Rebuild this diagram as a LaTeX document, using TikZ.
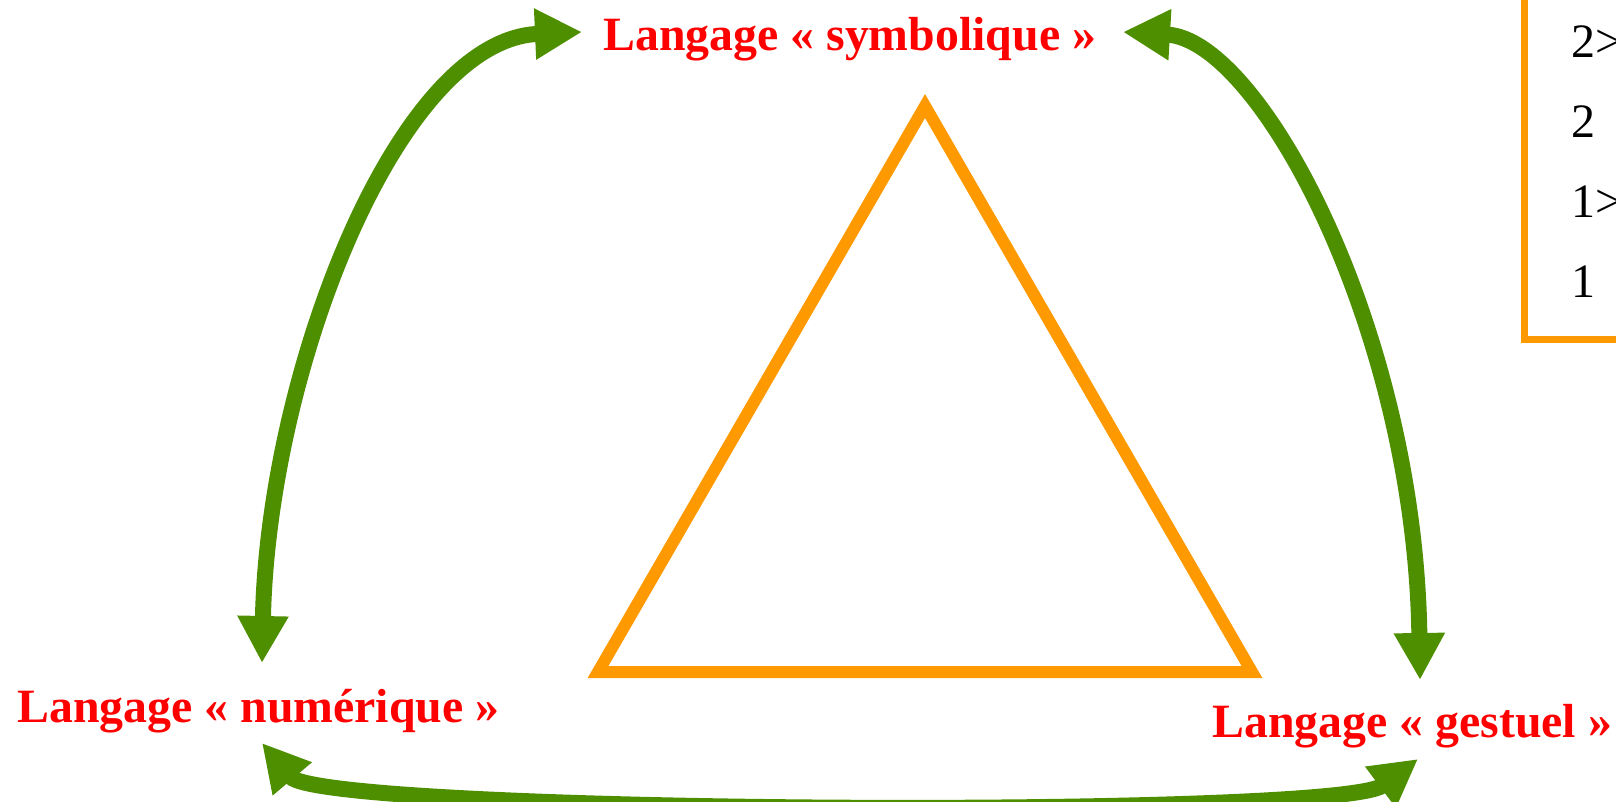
\documentclass[tikz,border=0pt]{standalone}
\usepackage{fontspec}
\setmainfont{Liberation Serif}
\usetikzlibrary{arrows.meta}

\definecolor{langred}{RGB}{255,0,0}
\definecolor{linkgreen}{RGB}{78,143,0}
\definecolor{triorange}{RGB}{255,153,0}

\begin{document}
\begin{tikzpicture}[
    x=0.5pt, y=-0.5pt,
    every node/.style={inner sep=0pt, anchor=base west},
    langue/.style={font=\fontsize{23.9}{28}\selectfont\bfseries, text=langred},
    niveau/.style={font=\fontsize{24}{28}\selectfont},
    lien/.style={linkgreen, line width=8pt,
        {Triangle[length=23.5pt,width=24pt]}-{Triangle[length=23.5pt,width=24pt]}}
]
\useasboundingbox (0,0) rectangle (1616,802);
\clip (0,0) rectangle (1616,802);

% Labels
\node[langue] (symb) at (603,51) {Langage « symbolique »};
\node[langue] (num) at (17,722) {Langage « numérique »};
\node[langue] (gest) at (1212,737) {Langage « gestuel »};

% Central triangle
\draw[triorange, line width=6pt] (925,106) -- (1252,672) -- (598,672) -- cycle;

% Arrow ends
\coordinate (numN) at (262,663);
\coordinate (symbW) at (582,32);
\coordinate (symbE) at (1123,32);
\coordinate (gestN) at (1420,680);
\coordinate (gestS) at (1418,759);
\coordinate (numS) at (262,743);

% Links between the three languages
\draw[lien] (numN) .. controls +(6,-290) and +(-185,8) .. (symbW);
\draw[lien] (symbE) .. controls +(137,8) and +(-5,-350) .. (gestN);
\draw[lien] (gestS) .. controls +(-80,60) and +(60,71) .. (numS);

% Levels box (top right, cut off)
\draw[triorange, line width=3.5pt] (1524,-30) -- (1524,339.5) -- (1650,339.5);
\node[niveau] (n4) at (1571,58) {2>};
\node[niveau] (n3) at (1571,138) {2};
\node[niveau] (n2) at (1571,218) {1>};
\node[niveau] (n1) at (1571,298) {1};

\end{tikzpicture}
\end{document}
